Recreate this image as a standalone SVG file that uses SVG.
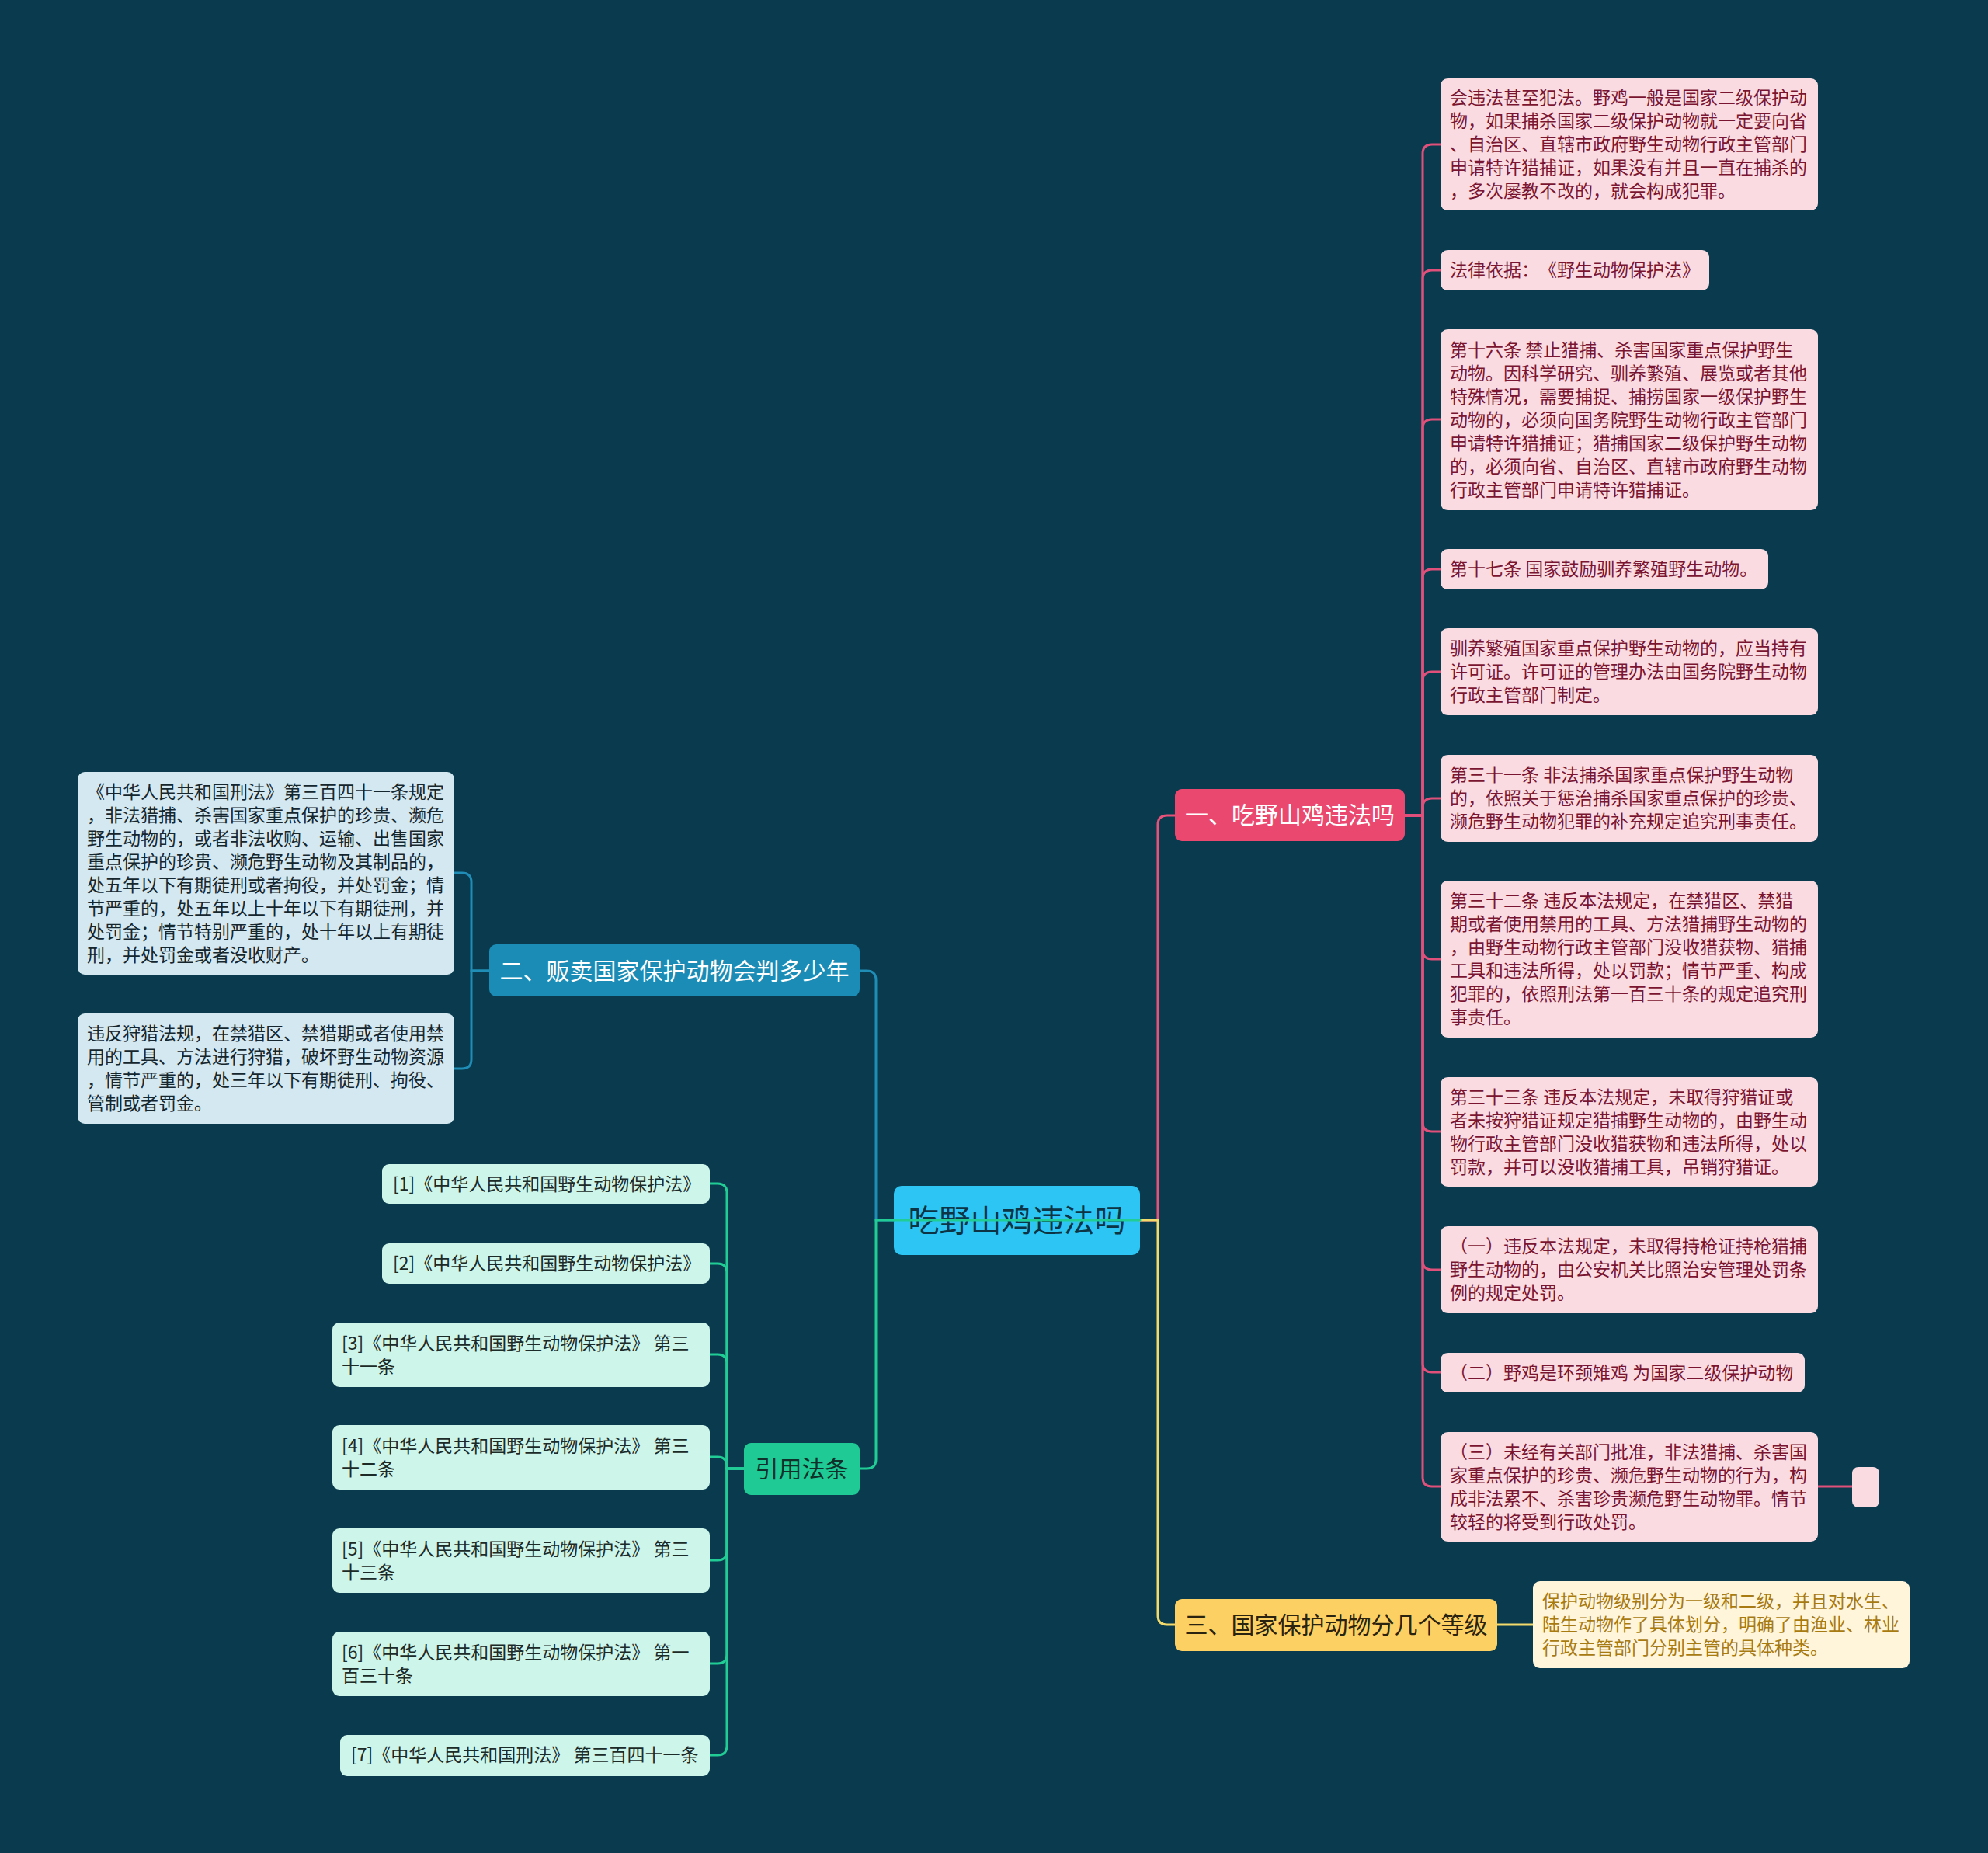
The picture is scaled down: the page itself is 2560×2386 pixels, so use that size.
<svg xmlns="http://www.w3.org/2000/svg" width="2560" height="2386" viewBox="0 0 2560 2386">
<style>
text{font-family:"Noto Sans CJK SC","Noto Sans",sans-serif;text-spacing-trim:space-all;font-kerning:none;}
.lf{font-size:23px;}
.br{font-size:30px;text-anchor:middle;}
.c{fill:none;stroke-width:3;stroke-linecap:round;}
.pk{fill:#FADBE2;} .pkt{fill:#7A1531;}
.bl{fill:#D3E8F0;} .blt{fill:#15262E;}
.gr{fill:#CDF5EA;} .grt{fill:#1C2A28;}
.yl{fill:#FFF5DB;} .ylt{fill:#A87A12;}
</style>
<rect width="2560" height="2386" fill="#093A4D"/>

<g id="root">
<rect x="1151" y="1527" width="317" height="89" rx="10" fill="#2DC6F4"/>
<text x="1309.5" y="1586" font-size="40" text-anchor="middle" fill="#0C3444">吃野山鸡违法吗</text>
</g>

<g id="connectors">
<path class="c" stroke="#1F8DB6" d="M1151 1571 H1128 V1262 Q1128 1250 1116 1250 H1107"/>
<path class="c" stroke="#E8527A" d="M1468 1571 H1491 V1062 Q1491 1050 1503 1050 H1513"/>
<path class="c" stroke="#F3DA6A" d="M1468 1571 H1491 V2080 Q1491 2092 1503 2092 H1513"/>
<path class="c" stroke="#22CC95" d="M1468 1571 H1128 V1879 Q1128 1891 1116 1891 H1107"/>
<g stroke="#E0507A">
<path class="c" d="M1809 1050 H1832 V198 Q1832 186 1844 186 H1855"/>
<path class="c" d="M1809 1050 H1832 V360 Q1832 348 1844 348 H1855"/>
<path class="c" d="M1809 1050 H1832 V552 Q1832 540 1844 540 H1855"/>
<path class="c" d="M1809 1050 H1832 V745 Q1832 733 1844 733 H1855"/>
<path class="c" d="M1809 1050 H1832 V877 Q1832 865 1844 865 H1855"/>
<path class="c" d="M1809 1050 H1832 V1040 Q1832 1028 1844 1028 H1855"/>
<path class="c" d="M1809 1050 H1832 V1223 Q1832 1235 1844 1235 H1855"/>
<path class="c" d="M1809 1050 H1832 V1445 Q1832 1457 1844 1457 H1855"/>
<path class="c" d="M1809 1050 H1832 V1623 Q1832 1635 1844 1635 H1855"/>
<path class="c" d="M1809 1050 H1832 V1755 Q1832 1767 1844 1767 H1855"/>
<path class="c" d="M1809 1050 H1832 V1902 Q1832 1914 1844 1914 H1855"/>
<path class="c" d="M2341 1914 H2385"/>
</g>
<g stroke="#1F8DB6">
<path class="c" d="M630 1250 H607 V1136 Q607 1124 595 1124 H585"/>
<path class="c" d="M630 1250 H607 V1364 Q607 1376 595 1376 H585"/>
</g>
<g stroke="#22CC95">
<path class="c" d="M958 1891 H936 V1536 Q936 1524 924 1524 H914"/>
<path class="c" d="M958 1891 H936 V1639 Q936 1627 924 1627 H914"/>
<path class="c" d="M958 1891 H936 V1756 Q936 1744 924 1744 H914"/>
<path class="c" d="M958 1891 H936 V1888 Q936 1876 924 1876 H914"/>
<path class="c" d="M958 1891 H936 V1997 Q936 2009 924 2009 H914"/>
<path class="c" d="M958 1891 H936 V2130 Q936 2142 924 2142 H914"/>
<path class="c" d="M958 1891 H936 V2248 Q936 2260 924 2260 H914"/>
</g>
<path class="c" stroke="#F3DA6A" d="M1928 2092 H1974"/>
</g>

<g id="b1">
<rect x="1513" y="1016" width="296" height="67" rx="9" fill="#EB4870"/>
<text class="br" x="1661" y="1060" fill="#FFFFFF">一、吃野山鸡违法吗</text>
</g>
<g id="b2">
<rect x="630" y="1216" width="477" height="67" rx="9" fill="#1A8CB5"/>
<text class="br" x="868.5" y="1261" fill="#FFFFFF">二、贩卖国家保护动物会判多少年</text>
</g>
<g id="b3">
<rect x="1513" y="2059" width="415" height="67" rx="9" fill="#FCD062"/>
<text class="br" x="1720.5" y="2103" fill="#2A2310">三、国家保护动物分几个等级</text>
</g>
<g id="b4">
<rect x="958" y="1858" width="149" height="67" rx="9" fill="#1FCA95"/>
<text class="br" x="1032.5" y="1902" fill="#10302A">引用法条</text>
</g>

<g id="p1"><rect class="pk" x="1855" y="101" width="486" height="170" rx="9"/>
<text class="lf pkt" x="1867" y="134"><tspan x="1867">会违法甚至犯法。野鸡一般是国家二级保护动</tspan><tspan x="1867" dy="30">物，如果捕杀国家二级保护动物就一定要向省</tspan><tspan x="1867" dy="30">、自治区、直辖市政府野生动物行政主管部门</tspan><tspan x="1867" dy="30">申请特许猎捕证，如果没有并且一直在捕杀的</tspan><tspan x="1867" dy="30">，多次屡教不改的，就会构成犯罪。</tspan></text></g>
<g id="p2"><rect class="pk" x="1855" y="322" width="346" height="52" rx="9"/>
<text class="lf pkt" x="1867" y="356">法律依据：《野生动物保护法》</text></g>
<g id="p3"><rect class="pk" x="1855" y="424" width="486" height="233" rx="9"/>
<text class="lf pkt" x="1867" y="458.5"><tspan x="1867">第十六条 禁止猎捕、杀害国家重点保护野生</tspan><tspan x="1867" dy="30">动物。因科学研究、驯养繁殖、展览或者其他</tspan><tspan x="1867" dy="30">特殊情况，需要捕捉、捕捞国家一级保护野生</tspan><tspan x="1867" dy="30">动物的，必须向国务院野生动物行政主管部门</tspan><tspan x="1867" dy="30">申请特许猎捕证；猎捕国家二级保护野生动物</tspan><tspan x="1867" dy="30">的，必须向省、自治区、直辖市政府野生动物</tspan><tspan x="1867" dy="30">行政主管部门申请特许猎捕证。</tspan></text></g>
<g id="p4"><rect class="pk" x="1855" y="707" width="422" height="52" rx="9"/>
<text class="lf pkt" x="1867" y="741">第十七条 国家鼓励驯养繁殖野生动物。</text></g>
<g id="p5"><rect class="pk" x="1855" y="809" width="486" height="112" rx="9"/>
<text class="lf pkt" x="1867" y="843"><tspan x="1867">驯养繁殖国家重点保护野生动物的，应当持有</tspan><tspan x="1867" dy="30">许可证。许可证的管理办法由国务院野生动物</tspan><tspan x="1867" dy="30">行政主管部门制定。</tspan></text></g>
<g id="p6"><rect class="pk" x="1855" y="972" width="486" height="112" rx="9"/>
<text class="lf pkt" x="1867" y="1006"><tspan x="1867">第三十一条 非法捕杀国家重点保护野生动物</tspan><tspan x="1867" dy="30">的，依照关于惩治捕杀国家重点保护的珍贵、</tspan><tspan x="1867" dy="30">濒危野生动物犯罪的补充规定追究刑事责任。</tspan></text></g>
<g id="p7"><rect class="pk" x="1855" y="1134" width="486" height="202" rx="9"/>
<text class="lf pkt" x="1867" y="1168"><tspan x="1867">第三十二条 违反本法规定，在禁猎区、禁猎</tspan><tspan x="1867" dy="30">期或者使用禁用的工具、方法猎捕野生动物的</tspan><tspan x="1867" dy="30">，由野生动物行政主管部门没收猎获物、猎捕</tspan><tspan x="1867" dy="30">工具和违法所得，处以罚款；情节严重、构成</tspan><tspan x="1867" dy="30">犯罪的，依照刑法第一百三十条的规定追究刑</tspan><tspan x="1867" dy="30">事责任。</tspan></text></g>
<g id="p8"><rect class="pk" x="1855" y="1387" width="486" height="141" rx="9"/>
<text class="lf pkt" x="1867" y="1420.5"><tspan x="1867">第三十三条 违反本法规定，未取得狩猎证或</tspan><tspan x="1867" dy="30">者未按狩猎证规定猎捕野生动物的，由野生动</tspan><tspan x="1867" dy="30">物行政主管部门没收猎获物和违法所得，处以</tspan><tspan x="1867" dy="30">罚款，并可以没收猎捕工具，吊销狩猎证。</tspan></text></g>
<g id="p9"><rect class="pk" x="1855" y="1579" width="486" height="112" rx="9"/>
<text class="lf pkt" x="1867" y="1613"><tspan x="1867">（一）违反本法规定，未取得持枪证持枪猎捕</tspan><tspan x="1867" dy="30">野生动物的，由公安机关比照治安管理处罚条</tspan><tspan x="1867" dy="30">例的规定处罚。</tspan></text></g>
<g id="p10"><rect class="pk" x="1855" y="1742" width="469" height="51" rx="9"/>
<text class="lf pkt" x="1867" y="1775.5">（二）野鸡是环颈雉鸡 为国家二级保护动物</text></g>
<g id="p11"><rect class="pk" x="1855" y="1844" width="486" height="141" rx="9"/>
<text class="lf pkt" x="1867" y="1877.5"><tspan x="1867">（三）未经有关部门批准，非法猎捕、杀害国</tspan><tspan x="1867" dy="30">家重点保护的珍贵、濒危野生动物的行为，构</tspan><tspan x="1867" dy="30">成非法累不、杀害珍贵濒危野生动物罪。情节</tspan><tspan x="1867" dy="30">较轻的将受到行政处罚。</tspan></text></g>
<g id="p12"><rect class="pk" x="2385" y="1889" width="35" height="52" rx="8"/></g>

<g id="a1"><rect class="bl" x="100" y="994" width="485" height="261" rx="9"/>
<text class="lf blt" x="112" y="1027.5"><tspan x="112">《中华人民共和国刑法》第三百四十一条规定</tspan><tspan x="112" dy="30">，非法猎捕、杀害国家重点保护的珍贵、濒危</tspan><tspan x="112" dy="30">野生动物的，或者非法收购、运输、出售国家</tspan><tspan x="112" dy="30">重点保护的珍贵、濒危野生动物及其制品的，</tspan><tspan x="112" dy="30">处五年以下有期徒刑或者拘役，并处罚金；情</tspan><tspan x="112" dy="30">节严重的，处五年以上十年以下有期徒刑，并</tspan><tspan x="112" dy="30">处罚金；情节特别严重的，处十年以上有期徒</tspan><tspan x="112" dy="30">刑，并处罚金或者没收财产。</tspan></text></g>
<g id="a2"><rect class="bl" x="100" y="1305" width="485" height="142" rx="9"/>
<text class="lf blt" x="112" y="1339"><tspan x="112">违反狩猎法规，在禁猎区、禁猎期或者使用禁</tspan><tspan x="112" dy="30">用的工具、方法进行狩猎，破坏野生动物资源</tspan><tspan x="112" dy="30">，情节严重的，处三年以下有期徒刑、拘役、</tspan><tspan x="112" dy="30">管制或者罚金。</tspan></text></g>

<g id="g1"><rect class="gr" x="492" y="1499" width="422" height="51" rx="9"/>
<text class="lf grt" x="506" y="1532.5">[1]《中华人民共和国野生动物保护法》</text></g>
<g id="g2"><rect class="gr" x="492" y="1601" width="422" height="52" rx="9"/>
<text class="lf grt" x="506" y="1635">[2]《中华人民共和国野生动物保护法》</text></g>
<g id="g3"><rect class="gr" x="428" y="1703" width="486" height="83" rx="9"/>
<text class="lf grt" x="440" y="1737.5"><tspan x="440">[3]《中华人民共和国野生动物保护法》 第三</tspan><tspan x="440" dy="30">十一条</tspan></text></g>
<g id="g4"><rect class="gr" x="428" y="1835" width="486" height="83" rx="9"/>
<text class="lf grt" x="440" y="1869.5"><tspan x="440">[4]《中华人民共和国野生动物保护法》 第三</tspan><tspan x="440" dy="30">十二条</tspan></text></g>
<g id="g5"><rect class="gr" x="428" y="1968" width="486" height="83" rx="9"/>
<text class="lf grt" x="440" y="2002.5"><tspan x="440">[5]《中华人民共和国野生动物保护法》 第三</tspan><tspan x="440" dy="30">十三条</tspan></text></g>
<g id="g6"><rect class="gr" x="428" y="2101" width="486" height="83" rx="9"/>
<text class="lf grt" x="440" y="2135.5"><tspan x="440">[6]《中华人民共和国野生动物保护法》 第一</tspan><tspan x="440" dy="30">百三十条</tspan></text></g>
<g id="g7"><rect class="gr" x="438" y="2234" width="476" height="53" rx="9"/>
<text class="lf grt" x="452" y="2268">[7]《中华人民共和国刑法》 第三百四十一条</text></g>

<g id="y1"><rect class="yl" x="1974" y="2036" width="485" height="112" rx="9"/>
<text class="lf ylt" x="1986" y="2070"><tspan x="1986">保护动物级别分为一级和二级，并且对水生、</tspan><tspan x="1986" dy="30">陆生动物作了具体划分，明确了由渔业、林业</tspan><tspan x="1986" dy="30">行政主管部门分别主管的具体种类。</tspan></text></g>
</svg>
